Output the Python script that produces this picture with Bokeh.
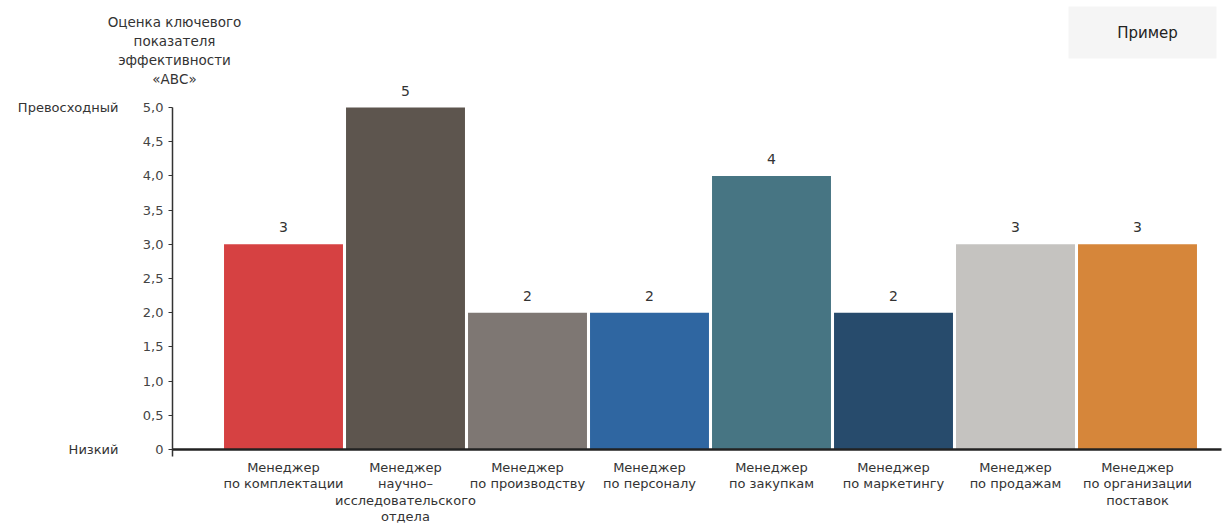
from bokeh.plotting import figure
from bokeh.models import Range1d, FixedTicker, ColumnDataSource
from bokeh.core.properties import value
from bokeh.embed import file_html
from bokeh.resources import INLINE

categories = [
    "Менеджер\nпо комплектации",
    "Менеджер\nнаучно–\nисследовательского\nотдела",
    "Менеджер\nпо производству",
    "Менеджер\nпо персоналу",
    "Менеджер\nпо закупкам",
    "Менеджер\nпо маркетингу",
    "Менеджер\nпо продажам",
    "Менеджер\nпо организации\nпоставок",
]
values = [3, 5, 2, 2, 4, 2, 3, 3]
colors = ["#d64142", "#5d554e", "#7e7773", "#2f66a1", "#477583", "#274b6c", "#c5c3c0", "#d6863a"]
y_ticks = [0, 0.5, 1, 1.5, 2, 2.5, 3, 3.5, 4, 4.5, 5]
y_tick_labels = ["0", "0,5", "1,0", "1,5", "2,0", "2,5", "3,0", "3,5", "4,0", "4,5", "5,0"]
y_title_lines = ["Оценка ключевого", "показателя", "эффективности", "«АВС»"]
scale_values = [5, 0]
scale_labels = ["Превосходный", "Низкий"]
badge = "Пример"

FONT = "DejaVu Sans"
W, H = 1224, 526
PX_X, PX_Y = 122.0, 68.4          # pixels per data unit
X0 = -222 / PX_X                   # data x at left canvas edge
Y1 = 449 / PX_Y                    # data y at top canvas edge
Y0 = Y1 - H / PX_Y                 # data y at bottom canvas edge
X1 = X0 + W / PX_X


def sx(px):  # canvas px -> data x
    return X0 + px / PX_X


def sy(py):  # canvas px (from top) -> data y
    return Y1 - py / PX_Y


centers = [i + 0.5 for i in range(len(values))]

p = figure(width=W, height=H, output_backend="svg", toolbar_location=None,
           x_range=Range1d(X0, X1), y_range=Range1d(Y0, Y1),
           min_border=0, min_border_left=0, min_border_right=0,
           min_border_top=0, min_border_bottom=0)
p.outline_line_color = None
p.grid.visible = False

src = ColumnDataSource(dict(x=centers, top=values, color=colors,
                            lab=[str(v) for v in values]))
p.vbar(x="x", top="top", bottom=0, width=0.975, color="color", line_color=None, source=src)
p.text(x="x", y="top", text="lab", source=src, text_align="center", text_baseline="bottom",
       y_offset=-12, text_font=value(FONT), text_font_size="14px", text_color="#333333")

# x axis drawn at y = 0
xa = p.xaxis[0]
xa.fixed_location = 0
xa.bounds = (sx(172), sx(1221))
xa.ticker = FixedTicker(ticks=centers)
xa.major_label_overrides = {c: lab for c, lab in zip(centers, categories)}
xa.major_tick_line_color = None
xa.minor_tick_line_color = None
xa.axis_line_width = 2.5
xa.axis_line_color = "#222222"
xa.major_label_text_font = FONT
xa.major_label_text_font_size = "13px"
xa.major_label_text_color = "#333333"
xa.major_label_standoff = 4
xa.major_label_text_line_height = 1.1

# y axis drawn at the left edge of the plotting area
ya = p.yaxis[0]
ya.fixed_location = sx(172)
ya.bounds = (-0.1, 5)
ya.ticker = FixedTicker(ticks=y_ticks)
ya.major_label_overrides = {t: l for t, l in zip(y_ticks, y_tick_labels)}
ya.minor_tick_line_color = None
ya.major_tick_in = 0
ya.major_tick_out = 4
ya.major_tick_line_color = "#333333"
ya.axis_line_color = "#333333"
ya.axis_line_width = 1.5
ya.major_label_text_font = FONT
ya.major_label_text_font_size = "13px"
ya.major_label_text_color = "#444444"
ya.major_label_standoff = 5

# scale words next to the y axis
p.text(x=[sx(118)] * len(scale_values), y=scale_values, text=scale_labels,
       text_align="right", text_baseline="middle",
       text_font=value(FONT), text_font_size="13px", text_color="#333333")

# y-axis title, centred above the axis
p.text(x=[sx(174)] * len(y_title_lines), y=[sy(21 + 19 * i) for i in range(len(y_title_lines))],
       text=y_title_lines, text_align="center", text_baseline="middle",
       text_font=value(FONT), text_font_size="13.5px", text_color="#333333")

# badge
p.rect(x=[sx(1142)], y=[sy(32)], width=[148 / PX_X], height=[52 / PX_Y],
       fill_color="#f5f5f5", line_color=None)
p.text(x=[sx(1147)], y=[sy(32)], text=[badge], text_align="center", text_baseline="middle",
       text_font=value(FONT), text_font_size="15px", text_color="#222222")

open("out.html", "w").write(file_html(p, INLINE))
